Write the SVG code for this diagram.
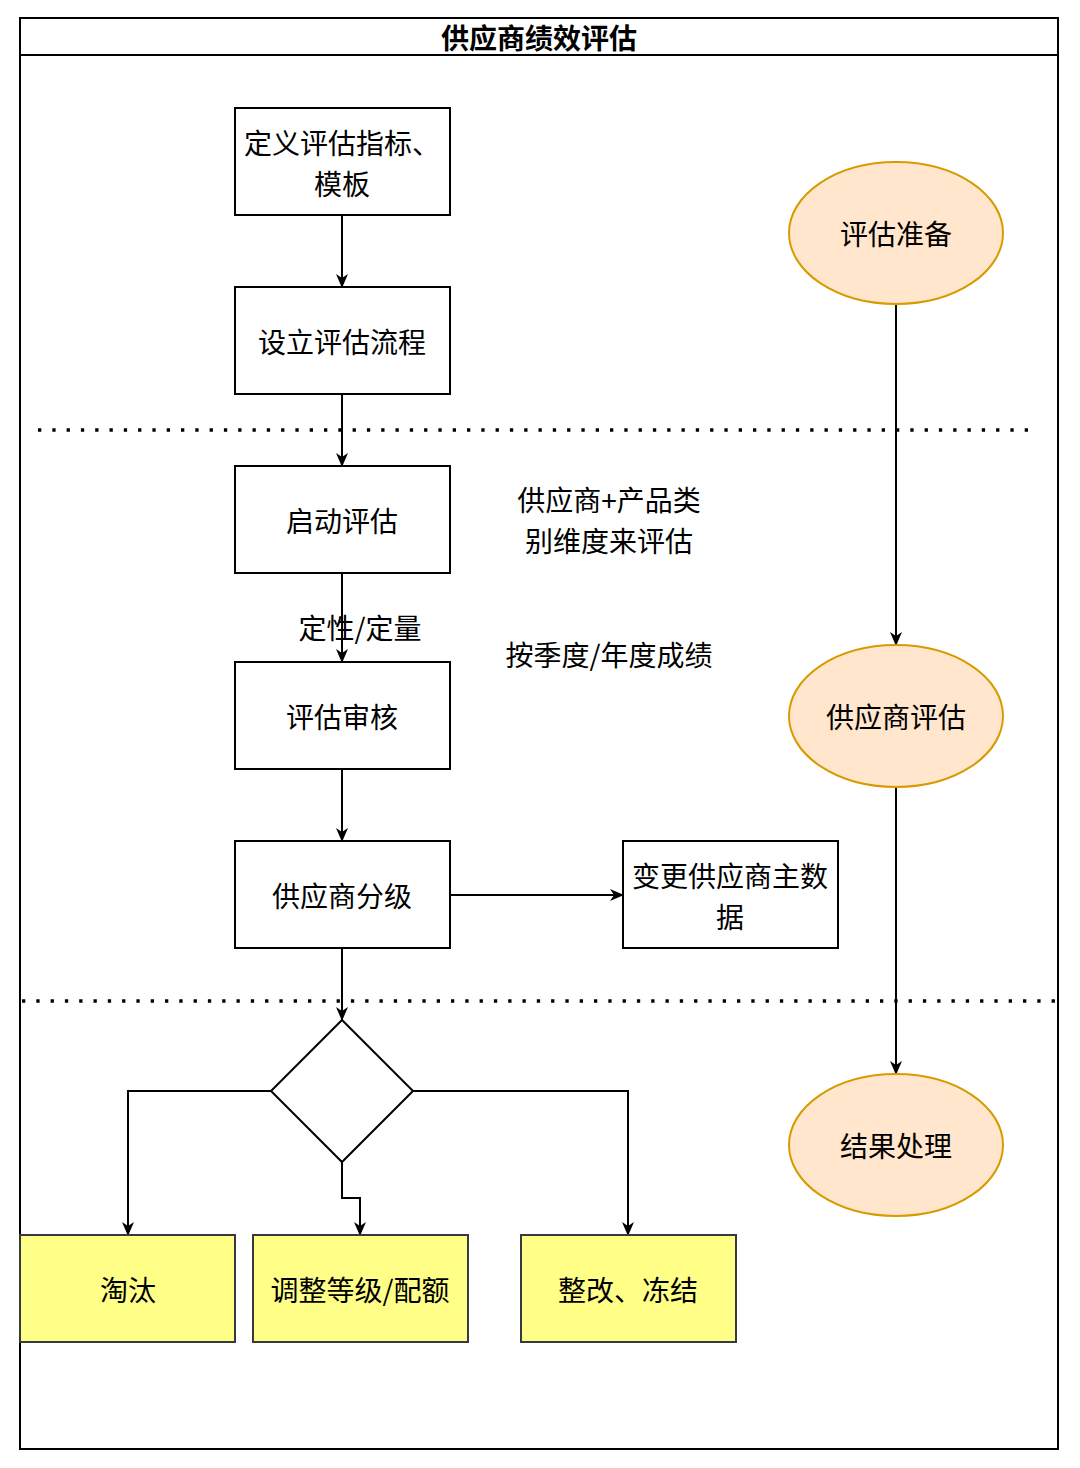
<svg xmlns="http://www.w3.org/2000/svg" width="1080" height="1468" viewBox="0 0 1080 1468">
<defs>
<marker id="arr" viewBox="0 0 14 14" refX="13" refY="7" markerWidth="14" markerHeight="14" markerUnits="userSpaceOnUse" orient="auto">
<path d="M0,1 L14,7 L0,13 L4,7 Z" fill="#000"/>
</marker>
</defs>
<style>
text{font-family:"Noto Sans CJK SC","Liberation Sans",sans-serif;font-size:28px;fill:#000;text-anchor:middle;dominant-baseline:central}
.box{fill:#fff;stroke:#000;stroke-width:2}
.yel{fill:#ffff88;stroke:#36393d;stroke-width:2}
.ell{fill:#ffe6cc;stroke:#d79b00;stroke-width:2}
.edge{fill:none;stroke:#000;stroke-width:2;marker-end:url(#arr)}
.dot{fill:none;stroke:#000;stroke-width:3.3;stroke-dasharray:3.3 11}
.title{font-weight:bold}
</style>
<rect x="0" y="0" width="1080" height="1468" fill="#fff"/>
<g id="container">
<rect x="20" y="18" width="1038" height="1431" fill="#fff" stroke="#000" stroke-width="2"/>
<line x1="20" y1="55" x2="1058" y2="55" stroke="#000" stroke-width="2"/>
<text class="title" x="539" y="37">供应商绩效评估</text>
</g>
<g id="separators">
<line class="dot" x1="38" y1="430" x2="1032" y2="430"/>
<line class="dot" x1="22" y1="1001" x2="1058" y2="1001"/>
</g>
<g id="connectors">
<path class="edge" d="M342,215 L342,287"/>
<path class="edge" d="M342,394 L342,466"/>
<path class="edge" d="M342,573 L342,662"/>
<path class="edge" d="M342,769 L342,841"/>
<path class="edge" d="M342,948 L342,1020"/>
<path class="edge" d="M450,895 L623,895"/>
<path class="edge" d="M271,1091 L128,1091 L128,1235"/>
<path class="edge" d="M342,1162 L342,1198 L360,1198 L360,1235"/>
<path class="edge" d="M413,1091 L628,1091 L628,1235"/>
<path class="edge" d="M896,304 L896,645"/>
<path class="edge" d="M896,787 L896,1074"/>
<text x="360" y="627">定性/定量</text>
</g>
<g id="n1"><rect class="box" x="235" y="108" width="215" height="107"/><text x="342" y="142">定义评估指标、<tspan x="342" dy="41">模板</tspan></text></g>
<g id="n2"><rect class="box" x="235" y="287" width="215" height="107"/><text x="342" y="341">设立评估流程</text></g>
<g id="n3"><rect class="box" x="235" y="466" width="215" height="107"/><text x="342" y="520">启动评估</text></g>
<g id="n4"><rect class="box" x="235" y="662" width="215" height="107"/><text x="342" y="716">评估审核</text></g>
<g id="n5"><rect class="box" x="235" y="841" width="215" height="107"/><text x="342" y="895">供应商分级</text></g>
<g id="n6"><rect class="box" x="623" y="841" width="215" height="107"/><text x="730" y="875">变更供应商主数<tspan x="730" dy="41">据</tspan></text></g>
<g id="decision"><path class="box" d="M342,1020 L413,1091 L342,1162 L271,1091 Z"/></g>
<g id="y1"><rect class="yel" x="20" y="1235" width="215" height="107"/><text x="128" y="1289">淘汰</text></g>
<g id="y2"><rect class="yel" x="253" y="1235" width="215" height="107"/><text x="360" y="1289">调整等级/配额</text></g>
<g id="y3"><rect class="yel" x="521" y="1235" width="215" height="107"/><text x="628" y="1289">整改、冻结</text></g>
<g id="e1"><ellipse class="ell" cx="896" cy="233" rx="107" ry="71"/><text x="896" y="233">评估准备</text></g>
<g id="e2"><ellipse class="ell" cx="896" cy="716" rx="107" ry="71"/><text x="896" y="716">供应商评估</text></g>
<g id="e3"><ellipse class="ell" cx="896" cy="1145" rx="107" ry="71"/><text x="896" y="1145">结果处理</text></g>
<g id="note1"><text x="609" y="499">供应商+产品类<tspan x="609" dy="41">别维度来评估</tspan></text></g>
<g id="note2"><text x="609" y="654">按季度/年度成绩</text></g>
</svg>
